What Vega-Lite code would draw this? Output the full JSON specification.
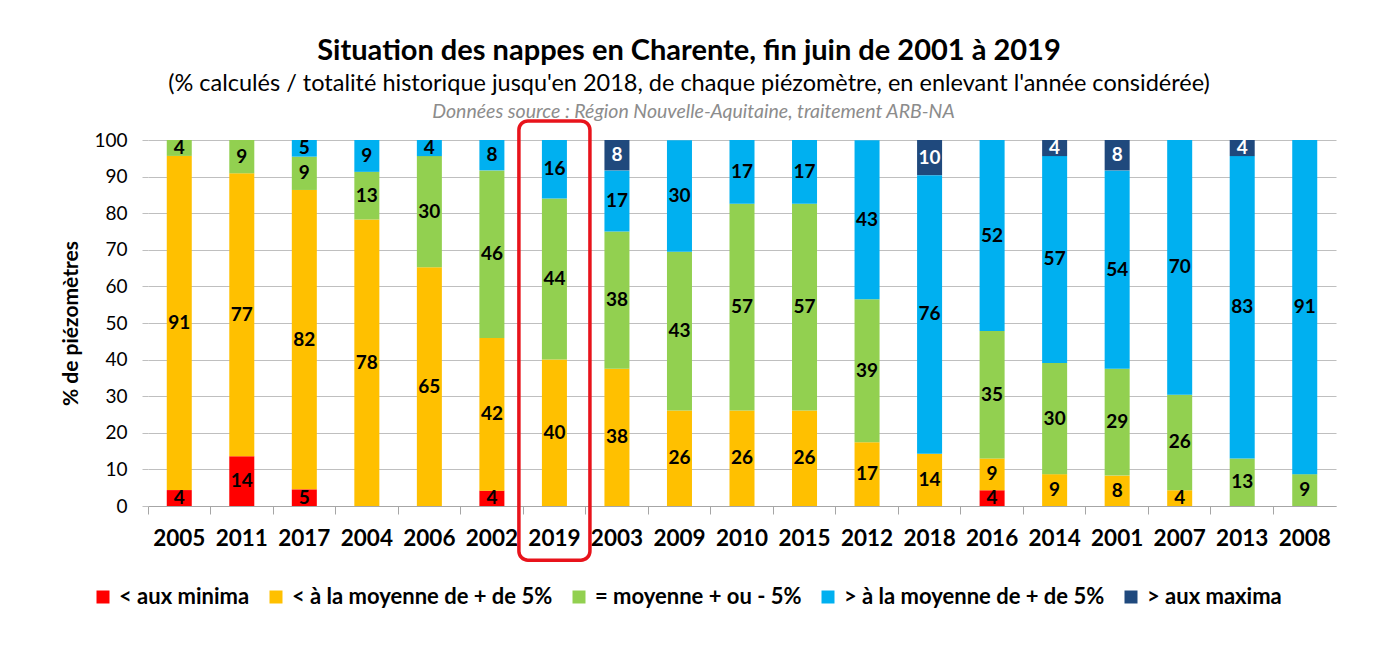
{
  "$schema": "https://vega.github.io/schema/vega-lite/v6.json",
  "width": 1188,
  "height": 366,
  "autosize": "none",
  "padding": {"left": 148, "top": 140, "right": 43, "bottom": 140},
  "background": "white",
  "title": {
    "text": "Situation des nappes en Charente, fin juin de 2001 à 2019",
    "subtitle": "(% calculés / totalité historique jusqu'en 2018, de chaque piézomètre,  en enlevant l'année  considérée)",
    "anchor": "middle",
    "frame": "group",
    "dx": -53,
    "offset": 6,
    "font": "Lato",
    "fontSize": 29,
    "fontWeight": "bold",
    "color": "#000000",
    "subtitleFont": "Lato",
    "subtitleFontSize": 23.5,
    "subtitleColor": "#000000",
    "subtitlePadding": 6
  },
  "config": {
    "view": {"stroke": null},
    "font": "Lato"
  },
  "datasets": {
    "bars": [
      {"year": "2005", "cat": "< aux minima", "ord": 1, "v": 4.35},
      {"year": "2005", "cat": "< à la moyenne de + de 5%", "ord": 2, "v": 91.3},
      {"year": "2005", "cat": "= moyenne + ou - 5%", "ord": 3, "v": 4.35},
      {"year": "2011", "cat": "< aux minima", "ord": 1, "v": 13.6},
      {"year": "2011", "cat": "< à la moyenne de + de 5%", "ord": 2, "v": 77.3},
      {"year": "2011", "cat": "= moyenne + ou - 5%", "ord": 3, "v": 9.1},
      {"year": "2017", "cat": "< aux minima", "ord": 1, "v": 4.55},
      {"year": "2017", "cat": "< à la moyenne de + de 5%", "ord": 2, "v": 81.8},
      {"year": "2017", "cat": "= moyenne + ou - 5%", "ord": 3, "v": 9.1},
      {"year": "2017", "cat": "> à la moyenne de + de 5%", "ord": 4, "v": 4.55},
      {"year": "2004", "cat": "< à la moyenne de + de 5%", "ord": 2, "v": 78.3},
      {"year": "2004", "cat": "= moyenne + ou - 5%", "ord": 3, "v": 13.0},
      {"year": "2004", "cat": "> à la moyenne de + de 5%", "ord": 4, "v": 8.7},
      {"year": "2006", "cat": "< à la moyenne de + de 5%", "ord": 2, "v": 65.2},
      {"year": "2006", "cat": "= moyenne + ou - 5%", "ord": 3, "v": 30.4},
      {"year": "2006", "cat": "> à la moyenne de + de 5%", "ord": 4, "v": 4.4},
      {"year": "2002", "cat": "< aux minima", "ord": 1, "v": 4.2},
      {"year": "2002", "cat": "< à la moyenne de + de 5%", "ord": 2, "v": 41.7},
      {"year": "2002", "cat": "= moyenne + ou - 5%", "ord": 3, "v": 45.8},
      {"year": "2002", "cat": "> à la moyenne de + de 5%", "ord": 4, "v": 8.3},
      {"year": "2019", "cat": "< à la moyenne de + de 5%", "ord": 2, "v": 40},
      {"year": "2019", "cat": "= moyenne + ou - 5%", "ord": 3, "v": 44},
      {"year": "2019", "cat": "> à la moyenne de + de 5%", "ord": 4, "v": 16},
      {"year": "2003", "cat": "< à la moyenne de + de 5%", "ord": 2, "v": 37.5},
      {"year": "2003", "cat": "= moyenne + ou - 5%", "ord": 3, "v": 37.5},
      {"year": "2003", "cat": "> à la moyenne de + de 5%", "ord": 4, "v": 16.7},
      {"year": "2003", "cat": "> aux maxima", "ord": 5, "v": 8.3},
      {"year": "2009", "cat": "< à la moyenne de + de 5%", "ord": 2, "v": 26.1},
      {"year": "2009", "cat": "= moyenne + ou - 5%", "ord": 3, "v": 43.4},
      {"year": "2009", "cat": "> à la moyenne de + de 5%", "ord": 4, "v": 30.4},
      {"year": "2010", "cat": "< à la moyenne de + de 5%", "ord": 2, "v": 26.1},
      {"year": "2010", "cat": "= moyenne + ou - 5%", "ord": 3, "v": 56.5},
      {"year": "2010", "cat": "> à la moyenne de + de 5%", "ord": 4, "v": 17.4},
      {"year": "2015", "cat": "< à la moyenne de + de 5%", "ord": 2, "v": 26.1},
      {"year": "2015", "cat": "= moyenne + ou - 5%", "ord": 3, "v": 56.5},
      {"year": "2015", "cat": "> à la moyenne de + de 5%", "ord": 4, "v": 17.4},
      {"year": "2012", "cat": "< à la moyenne de + de 5%", "ord": 2, "v": 17.4},
      {"year": "2012", "cat": "= moyenne + ou - 5%", "ord": 3, "v": 39.1},
      {"year": "2012", "cat": "> à la moyenne de + de 5%", "ord": 4, "v": 43.4},
      {"year": "2018", "cat": "< à la moyenne de + de 5%", "ord": 2, "v": 14.3},
      {"year": "2018", "cat": "> à la moyenne de + de 5%", "ord": 4, "v": 76.1},
      {"year": "2018", "cat": "> aux maxima", "ord": 5, "v": 9.6},
      {"year": "2016", "cat": "< aux minima", "ord": 1, "v": 4.3},
      {"year": "2016", "cat": "< à la moyenne de + de 5%", "ord": 2, "v": 8.7},
      {"year": "2016", "cat": "= moyenne + ou - 5%", "ord": 3, "v": 34.8},
      {"year": "2016", "cat": "> à la moyenne de + de 5%", "ord": 4, "v": 52.2},
      {"year": "2014", "cat": "< à la moyenne de + de 5%", "ord": 2, "v": 8.7},
      {"year": "2014", "cat": "= moyenne + ou - 5%", "ord": 3, "v": 30.4},
      {"year": "2014", "cat": "> à la moyenne de + de 5%", "ord": 4, "v": 56.5},
      {"year": "2014", "cat": "> aux maxima", "ord": 5, "v": 4.4},
      {"year": "2001", "cat": "< à la moyenne de + de 5%", "ord": 2, "v": 8.3},
      {"year": "2001", "cat": "= moyenne + ou - 5%", "ord": 3, "v": 29.2},
      {"year": "2001", "cat": "> à la moyenne de + de 5%", "ord": 4, "v": 54.2},
      {"year": "2001", "cat": "> aux maxima", "ord": 5, "v": 8.3},
      {"year": "2007", "cat": "< à la moyenne de + de 5%", "ord": 2, "v": 4.3},
      {"year": "2007", "cat": "= moyenne + ou - 5%", "ord": 3, "v": 26.1},
      {"year": "2007", "cat": "> à la moyenne de + de 5%", "ord": 4, "v": 69.6},
      {"year": "2013", "cat": "= moyenne + ou - 5%", "ord": 3, "v": 13.0},
      {"year": "2013", "cat": "> à la moyenne de + de 5%", "ord": 4, "v": 82.6},
      {"year": "2013", "cat": "> aux maxima", "ord": 5, "v": 4.4},
      {"year": "2008", "cat": "= moyenne + ou - 5%", "ord": 3, "v": 8.7},
      {"year": "2008", "cat": "> à la moyenne de + de 5%", "ord": 4, "v": 91.3}
    ],
    "highlight": [
      {"year": "2019", "lo": -14.8, "hi": 105.2}
    ]
  },
  "resolve": {"axis": {"x": "independent"}},
  "layer": [
    {
      "data": {"name": "bars"},
      "mark": {"type": "bar", "width": {"band": 0.4}},
      "encoding": {
        "x": {
          "field": "year", "type": "nominal",
          "sort": ["2005","2011","2017","2004","2006","2002","2019","2003","2009","2010","2015","2012","2018","2016","2014","2001","2007","2013","2008"],
          "scale": {"paddingInner": 0, "paddingOuter": 0},
          "axis": {
            "title": null,
            "labelAngle": 0,
            "labelFont": "Lato",
            "labelFontSize": 22.5,
            "labelFontWeight": "bold",
            "labelColor": "#000000",
            "labelPadding": 13,
            "bandPosition": 0,
            "ticks": true,
            "tickSize": 8,
            "tickColor": "#a6a6a6",
            "domainColor": "#a6a6a6",
            "grid": false
          }
        },
        "y": {
          "field": "v", "type": "quantitative", "stack": "zero",
          "scale": {"domain": [0, 100], "nice": false},
          "axis": {
            "title": "% de piézomètres",
            "titleFont": "Lato",
            "titleFontSize": 21,
            "titleFontWeight": "bold",
            "titleColor": "#000000",
            "titlePadding": 12,
            "values": [0,10,20,30,40,50,60,70,80,90,100],
            "labelOverlap": false,
            "labelFont": "Lato",
            "labelFontSize": 19,
            "labelColor": "#000000",
            "labelPadding": 15,
            "domain": false,
            "ticks": true,
            "tickSize": 6,
            "tickColor": "#bfbfbf",
            "gridColor": "#bfbfbf",
            "grid": true
          }
        },
        "order": {"field": "ord", "type": "quantitative", "sort": "ascending"},
        "color": {
          "field": "cat", "type": "nominal",
          "scale": {
            "domain": ["< aux minima", "< à la moyenne de + de 5%", "= moyenne + ou - 5%", "> à la moyenne de + de 5%", "> aux maxima"],
            "range": ["#ff0000", "#ffc000", "#92d050", "#00b0f0", "#1f497d"]
          },
          "legend": {
            "title": null,
            "orient": "none",
            "direction": "horizontal",
            "legendX": -56,
            "legendY": 446,
            "symbolType": "square",
            "symbolSize": 169,
            "symbolStrokeWidth": 0,
            "labelFont": "Lato",
            "labelFontSize": 22,
            "labelFontWeight": "bold",
            "labelColor": "#000000",
            "labelOffset": 5,
            "columnPadding": 15,
            "labelLimit": 500
          }
        }
      }
    },
    {
      "data": {"name": "bars"},
      "transform": [
        {"stack": "v", "groupby": ["year"], "sort": [{"field": "ord", "order": "ascending"}], "as": ["y0", "y1"]},
        {"calculate": "(datum.y0 + datum.y1) / 2", "as": "mid"}
      ],
      "mark": {"type": "text", "font": "Lato", "fontSize": 19, "fontWeight": "bold", "baseline": "middle", "align": "center"},
      "encoding": {
        "x": {"field": "year", "type": "nominal", "sort": ["2005","2011","2017","2004","2006","2002","2019","2003","2009","2010","2015","2012","2018","2016","2014","2001","2007","2013","2008"], "axis": null},
        "y": {
          "field": "mid", "type": "quantitative",
          "axis": {
            "title": "% de piézomètres",
            "titleFont": "Lato",
            "titleFontSize": 21,
            "titleFontWeight": "bold",
            "titleColor": "#000000",
            "titlePadding": 12,
            "values": [0,10,20,30,40,50,60,70,80,90,100],
            "labelOverlap": false,
            "labelFont": "Lato",
            "labelFontSize": 19,
            "labelColor": "#000000",
            "labelPadding": 15,
            "domain": false,
            "ticks": true,
            "tickSize": 6,
            "tickColor": "#bfbfbf",
            "gridColor": "#bfbfbf",
            "grid": true
          }
        },
        "text": {"field": "v", "type": "quantitative", "format": ".0f"},
        "color": {"condition": {"test": "datum.cat === '> aux maxima'", "value": "#ffffff"}, "value": "#000000"}
      }
    },
    {
      "data": {"name": "highlight"},
      "mark": {"type": "bar", "width": {"band": 1.136}, "fill": null, "fillOpacity": 0, "stroke": "#e8131b", "strokeWidth": 3.5, "cornerRadius": 9, "clip": false},
      "encoding": {
        "x": {
          "field": "year", "type": "nominal",
          "sort": ["2005","2011","2017","2004","2006","2002","2019","2003","2009","2010","2015","2012","2018","2016","2014","2001","2007","2013","2008"],
          "axis": {
            "orient": "top",
            "labels": false,
            "ticks": false,
            "domain": false,
            "grid": false,
            "title": "Données source : Région Nouvelle-Aquitaine, traitement ARB-NA",
            "titleFont": "Lato",
            "titleFontSize": 19.5,
            "titleFontStyle": "italic",
            "titleFontWeight": "normal",
            "titleColor": "#8c8c8c",
            "titlePadding": 19,
            "titleX": 545
          }
        },
        "y": {
          "field": "lo", "type": "quantitative",
          "axis": {
            "title": "% de piézomètres",
            "titleFont": "Lato",
            "titleFontSize": 21,
            "titleFontWeight": "bold",
            "titleColor": "#000000",
            "titlePadding": 12,
            "values": [0,10,20,30,40,50,60,70,80,90,100],
            "labelOverlap": false,
            "labelFont": "Lato",
            "labelFontSize": 19,
            "labelColor": "#000000",
            "labelPadding": 15,
            "domain": false,
            "ticks": true,
            "tickSize": 6,
            "tickColor": "#bfbfbf",
            "gridColor": "#bfbfbf",
            "grid": true
          }
        },
        "y2": {"field": "hi"}
      }
    }
  ]
}
